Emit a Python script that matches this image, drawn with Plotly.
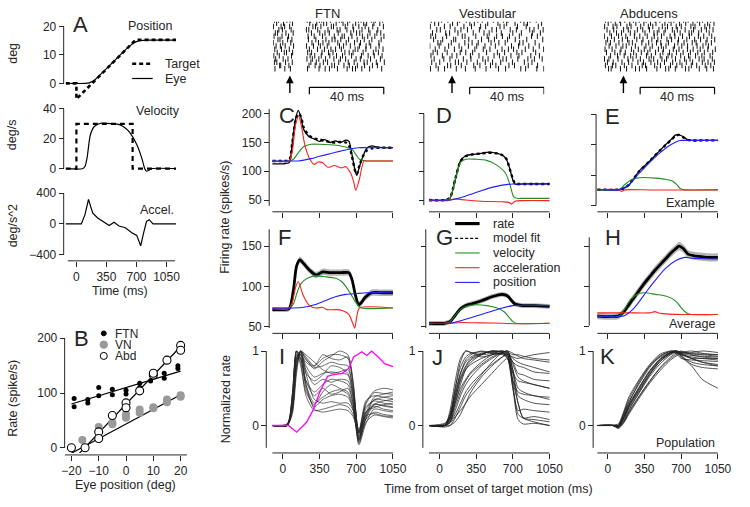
import plotly.graph_objects as go

W, H = 750, 507
FONT = "Liberation Sans, Arial, Helvetica, sans-serif"
INK = "#262626"
GREEN = "#1f8f1f"
RED = "#ff2020"
BLUE = "#2020ff"
MAGENTA = "#ff00ff"
BAND = "#b4b4b4"

# ===================== DATA =====================
# ---- A: target / eye kinematics ----
a_t_target_pos = [-125, 0, 0, 690, 1160]
a_target_pos = [0, 0, -5.5, 15.3, 15.3]
a_t_eye_pos = [-125, 100, 150, 200, 300, 400, 500, 600, 650, 700, 760, 820, 1160]
a_eye_pos = [0, 0, 0.2, 0.9, 3.7, 6.7, 9.7, 12.6, 13.9, 14.7, 15.1, 15.2, 15.2]
a_t_target_vel = [-125, 0, 0, 655, 655, 1160]
a_target_vel = [0, 0, 30, 30, 0, 0]
a_t_eye_vel = [-125, 70, 100, 125, 163, 209, 285, 437, 500, 562, 627, 703, 760, 798, 817, 874, 1160]
a_eye_vel = [0, 0, 1.5, 7.5, 22.7, 28.2, 30.4, 30, 29.5, 27.5, 23.8, 16.2, 7.4, -0.2, -1.7, 0, 0]
a_t_acc = [-125, 57, 100, 141, 165, 191, 248, 324, 382, 439, 496, 570, 646, 703, 749, 779, 817, 848, 893, 1160]
a_acc = [0, 0, 120, 320, 230, 140, 77, 21, -22, 21, -27, -51, -115, -150, -286, -137, 33, 55, 0, 0]

# ---- B: rate vs eye position ----
b_ftn_x = [-19, -19, -14, -14, -10, -10, -5, -5, 0, 0, 5, 5, 9, 10, 14, 14, 19, 19]
b_ftn_y = [90, 75, 88, 82, 110, 95, 107, 97, 105, 98, 118, 110, 122, 132, 136, 127, 150, 145]
b_vn_x = [-16, -10, -10, -5, -5, 0, 0, 5, 5, 10, 10, 15, 15, 20, 20]
b_vn_y = [14, 38, 31, 46, 43, 55, 61, 64, 70, 72, 74, 83, 88, 93, 96]
b_abd_x = [-20, -15, -10, -10, -5, 0, 0, 5, 10, 10, 15, 20, 20]
b_abd_y = [0, 0, 29, 17, 59, 82, 73, 104, 133, 136, 160, 187, 178]
b_ftn_fit_x = [-20, 20]
b_ftn_fit = [80, 140]
b_vn_fit_x = [-20, 20]
b_vn_fit = [-10, 97]
b_abd_fit_x = [-18, 20]
b_abd_fit = [-15, 185]

# ---- Rasters (spike times, ms, one list per trial) ----
ftn_raster = [
    [0.8, 2.9, 7.4, 9.1, 18.3, 20.2, 24.9, 26.1, 30.8, 35.6, 36.9, 41.2, 45.9, 47.3, 52.8, 55.0, 58.9],
    [1.9, 5.6, 10.4, 19.7, 23.5, 27.2, 28.8, 33.9, 37.6, 40.1, 44.4, 48.7, 50.3, 54.2, 57.4],
    [0.2, 4.3, 6.2, 8.9, 21.4, 22.8, 25.7, 31.3, 32.5, 38.8, 42.9, 46.1, 49.5, 53.6, 59.3],
    [3.1, 5.0, 9.7, 17.9, 19.2, 24.0, 29.5, 34.4, 36.0, 39.7, 43.3, 47.8, 51.4, 56.3],
    [1.2, 2.4, 6.9, 10.8, 20.6, 25.1, 27.9, 30.2, 35.0, 41.8, 44.9, 46.6, 52.1, 55.8, 57.9],
    [0.5, 4.8, 8.3, 18.8, 22.1, 26.6, 32.9, 37.1, 38.3, 42.4, 48.0, 50.9, 54.7, 59.6],
    [2.6, 3.7, 7.8, 10.1, 19.0, 23.0, 28.4, 31.7, 33.3, 36.4, 40.6, 45.2, 49.0, 53.1, 58.1],
    [0.1, 5.2, 9.5, 20.9, 24.4, 26.8, 30.0, 34.8, 39.3, 43.8, 47.0, 51.7, 56.9],
    [1.6, 3.9, 6.5, 11.0, 18.0, 21.7, 25.4, 29.1, 35.7, 37.9, 41.5, 46.4, 50.0, 52.5, 57.0],
    [0.9, 4.5, 8.7, 19.5, 23.9, 27.6, 31.1, 33.6, 36.7, 44.1, 45.6, 49.9, 55.3, 59.1],
    [2.2, 6.0, 7.2, 10.5, 18.6, 20.7, 26.3, 29.8, 32.2, 38.6, 40.9, 43.0, 48.4, 53.9, 56.6],
    [0.4, 3.3, 9.9, 19.9, 22.4, 25.9, 30.5, 34.1, 37.3, 42.2, 47.5, 51.1, 54.4, 58.6],
    [1.4, 5.4, 8.0, 18.2, 21.1, 24.6, 28.2, 32.7, 36.2, 39.0, 44.6, 46.9, 52.4, 57.7],
    [0.7, 2.0, 6.7, 10.3, 20.3, 23.2, 27.0, 29.3, 35.3, 40.4, 43.6, 48.9, 50.6, 55.5, 59.8],
    [3.5, 4.1, 8.5, 19.3, 22.6, 25.2, 31.6, 33.0, 38.1, 41.0, 45.3, 49.2, 53.4, 56.1],
    [1.0, 6.3, 9.3, 18.5, 24.7, 28.0, 30.3, 34.6, 39.8, 42.7, 44.3, 47.7, 51.9, 58.4],
]
vn_raster = [
    [0.9, 6.4, 9.8, 16.1, 19.7, 25.9, 28.3, 34.2, 39.6, 42.1, 48.8, 54.0, 57.3],
    [2.7, 4.8, 12.3, 14.9, 21.6, 24.0, 31.2, 36.7, 41.4, 45.9, 50.7, 52.6, 60.2],
    [0.3, 7.9, 11.0, 18.4, 22.5, 27.4, 30.1, 37.8, 40.0, 47.2, 51.9, 58.4],
    [3.8, 5.7, 13.6, 16.8, 20.3, 26.7, 33.5, 35.9, 43.3, 46.6, 53.8, 56.1, 61.0],
    [1.5, 8.6, 10.7, 15.2, 23.4, 29.2, 32.0, 38.5, 44.7, 49.3, 55.2, 59.5],
    [0.6, 3.2, 9.1, 17.5, 19.0, 24.8, 30.9, 36.0, 39.1, 42.9, 48.2, 54.8, 57.9],
    [2.1, 7.0, 12.9, 14.0, 21.0, 27.9, 31.7, 34.8, 41.9, 46.0, 52.2, 60.8],
    [4.4, 6.0, 11.6, 18.9, 22.8, 26.1, 33.0, 37.2, 40.6, 48.4, 50.2, 56.7],
    [0.1, 5.1, 10.2, 15.8, 20.8, 25.3, 29.7, 35.3, 44.0, 47.8, 53.3, 58.9],
    [3.0, 8.2, 13.3, 17.2, 24.3, 28.8, 32.4, 38.9, 42.3, 45.1, 51.4, 55.7, 61.3],
    [1.8, 4.1, 9.4, 16.4, 19.4, 23.1, 30.6, 36.4, 40.3, 46.9, 49.6, 57.0],
    [0.7, 6.8, 12.0, 14.6, 21.9, 26.5, 34.6, 37.5, 43.7, 48.0, 54.4, 59.0],
    [2.4, 7.6, 10.9, 18.1, 22.2, 28.6, 31.4, 39.4, 41.2, 47.4, 52.8, 56.3, 60.5],
    [1.1, 5.4, 13.8, 15.5, 20.0, 25.6, 29.9, 33.8, 38.2, 44.5, 50.9, 55.0],
    [3.4, 9.6, 11.3, 17.0, 23.7, 27.0, 32.7, 35.6, 42.6, 45.6, 53.0, 58.0],
    [0.4, 4.6, 8.0, 14.3, 19.2, 24.5, 30.3, 37.0, 40.8, 49.0, 51.6, 57.6, 61.4],
]
abd_raster = [
    [0.9, 3.8, 8.4, 11.2, 15.9, 19.0, 22.7, 27.5, 30.1, 35.0, 37.6, 42.8, 45.3, 50.2, 53.0, 57.4],
    [2.3, 6.1, 9.0, 13.9, 17.2, 21.5, 25.1, 28.0, 32.8, 36.1, 40.7, 44.0, 47.9, 51.5, 55.8, 59.2],
    [0.4, 4.9, 7.0, 12.4, 14.6, 19.8, 23.9, 26.3, 31.4, 34.2, 38.9, 41.6, 46.8, 49.0, 54.3, 56.9],
    [1.7, 5.3, 10.6, 13.1, 18.0, 20.9, 24.5, 29.6, 33.0, 36.8, 39.5, 43.7, 48.2, 52.4, 55.1, 58.7],
    [3.2, 6.8, 9.5, 14.2, 16.6, 22.1, 26.9, 28.7, 32.3, 37.9, 41.0, 45.8, 47.2, 51.0, 56.6],
    [0.2, 4.1, 7.9, 11.8, 16.4, 19.3, 23.3, 27.1, 31.0, 35.6, 38.2, 42.3, 46.0, 50.8, 53.7, 58.0],
    [2.0, 5.6, 9.9, 12.7, 17.7, 21.0, 25.8, 29.0, 33.9, 36.4, 40.1, 44.6, 48.8, 52.0, 55.5, 59.6],
    [1.1, 3.5, 8.1, 13.5, 15.3, 20.4, 24.1, 28.3, 30.6, 34.7, 39.8, 43.1, 47.5, 49.6, 54.9, 57.8],
    [2.8, 6.5, 10.2, 12.0, 16.9, 22.6, 26.0, 30.9, 33.4, 38.0, 41.9, 45.0, 50.1, 53.3, 56.2],
    [0.6, 4.4, 9.2, 14.8, 18.5, 21.7, 24.8, 29.3, 32.0, 37.3, 40.4, 44.9, 48.0, 51.8, 55.9, 59.9],
    [1.4, 5.9, 8.7, 11.5, 16.0, 20.1, 23.6, 27.8, 31.7, 35.3, 39.0, 42.6, 46.5, 50.5, 54.0, 58.5],
    [3.6, 7.3, 10.9, 14.4, 17.4, 22.9, 25.5, 30.3, 34.5, 36.6, 41.3, 45.5, 49.3, 52.7, 57.1],
    [0.3, 2.7, 7.6, 12.9, 15.6, 19.6, 24.3, 26.8, 31.2, 33.7, 38.5, 43.4, 46.3, 51.2, 53.9, 58.3],
    [1.9, 5.0, 9.7, 13.3, 18.3, 21.3, 25.3, 28.9, 32.6, 37.0, 40.9, 44.3, 47.7, 52.9, 56.0, 59.4],
    [0.8, 4.6, 6.4, 11.0, 15.1, 20.6, 22.4, 27.3, 30.4, 35.8, 39.2, 42.0, 47.0, 49.9, 54.5, 57.5],
    [2.5, 3.9, 8.9, 12.2, 17.0, 19.1, 23.0, 28.5, 33.2, 34.9, 38.4, 43.9, 45.7, 51.3, 55.3, 58.9],
]
raster_onset = {"ftn": 9.0, "vn": 12.0, "abd": 10.5}
scalebar_start = {"ftn": 19.5, "vn": 21.5, "abd": 19.5}
scalebar_ms = 40

# ---- C: FTN example ----
c_t = [-100, 0, 60, 90, 120, 146, 170, 200, 250, 300, 350, 400, 450, 500, 550, 600, 630, 660, 690, 705, 730, 760, 800, 850, 900, 1000, 1050]
c_rate = [113, 113, 115, 150, 190, 206, 195, 172, 160, 156, 152, 155, 150, 153, 150, 154, 152, 128, 100, 93, 108, 124, 140, 144, 142, 141, 141]
c_fit = [118, 118, 119, 150, 188, 200, 196, 175, 162, 157, 155, 153, 151, 150, 151, 150, 145, 125, 100, 95, 110, 125, 136, 140, 141, 141, 141]
c_t_vel = [-100, 60, 100, 150, 200, 270, 350, 450, 550, 620, 660, 700, 730, 760, 800, 1050]
c_vel = [118, 118, 121, 133, 143, 147, 147, 146, 144, 141, 138, 128, 121, 119, 118, 118]
c_t_acc = [-100, 60, 90, 120, 150, 175, 210, 260, 300, 333, 380, 428, 491, 554, 601, 648, 675, 695, 727, 773, 800, 1050]
c_acc = [118, 118, 135, 180, 196, 180, 145, 120, 112, 116, 115, 107, 110, 106, 108, 96, 82, 67, 84, 118, 118, 118]
c_t_pos = [-100, 60, 150, 270, 350, 460, 550, 620, 720, 800, 1050]
c_pos = [118, 118, 118, 122, 126, 131, 135, 138, 141, 141, 141]

# ---- D: vestibular example ----
d_t = [-100, 50, 100, 150, 200, 250, 300, 400, 450, 500, 550, 600, 640, 670, 700, 720, 750, 800, 900, 1050]
d_rate = [50, 50, 53, 85, 118, 127, 129, 131, 133, 133, 131, 128, 120, 105, 85, 78, 77, 78, 78, 78]
d_fit = [50, 50, 54, 86, 117, 126, 129, 131, 132, 132, 131, 128, 121, 104, 87, 79, 78, 78, 78, 78]
d_t_vel = [-100, 50, 100, 150, 200, 250, 350, 450, 535, 629, 675, 707, 740, 800, 1050]
d_vel = [50, 50, 53, 85, 115, 121, 121, 119, 112, 97, 75, 56, 53, 53, 53]
d_t_acc = [-100, 80, 150, 250, 400, 600, 660, 690, 720, 800, 1050]
d_acc = [49, 49, 52, 50, 48, 47, 46, 43, 48, 49, 49]
d_t_pos = [-100, 100, 200, 317, 411, 500, 598, 700, 740, 800, 1050]
d_pos = [50, 50, 54, 61, 67, 72, 76, 78, 78, 78, 78]

# ---- E: abducens example ----
e_t = [-100, 100, 150, 200, 300, 400, 500, 600, 650, 680, 720, 760, 800, 900, 1050]
e_rate = [76, 76, 78, 83, 107, 123, 141, 158, 166, 166, 163, 158, 157, 157, 157]
e_fit = [76, 76, 78, 84, 106, 123, 141, 157, 165, 166, 162, 158, 157, 157, 157]
e_t_vel = [-100, 110, 160, 220, 270, 350, 450, 550, 620, 660, 690, 720, 1050]
e_vel = [76, 76, 84, 92, 95, 96, 95, 93, 90, 84, 78, 76, 76]
e_t_acc = [-100, 100, 130, 160, 400, 700, 1050]
e_acc = [76, 76, 73, 75.5, 75.5, 75.5, 75.5]
e_t_pos = [-100, 110, 200, 300, 400, 500, 600, 690, 720, 1050]
e_pos = [76, 76, 84, 103, 121, 137, 150, 157, 157, 157]

# ---- F: FTN average ----
f_t = [-100, 0, 60, 100, 130, 162, 200, 255, 317, 380, 450, 504, 560, 629, 660, 690, 722, 750, 784, 847, 950, 1050]
f_rate = [71, 71, 72, 95, 125, 133, 128, 120, 114, 118, 117, 117, 117, 117, 108, 90, 77, 80, 86, 92, 92, 92]
f_sem = [3, 3, 3, 4, 4, 4, 4, 4, 4, 4, 4, 4, 4, 4, 4, 4, 4, 4, 4, 4, 4, 4]
f_t_vel = [-100, 60, 100, 130, 162, 200, 250, 317, 400, 504, 560, 600, 650, 691, 720, 750, 1050]
f_vel = [72, 72, 78, 90, 101, 107, 111, 113, 112, 110, 106, 100, 90, 81, 76, 73, 73]
f_t_acc = [-100, 60, 90, 120, 146, 193, 255, 317, 380, 420, 500, 566, 629, 666, 685, 707, 730, 1050]
f_acc = [73, 73, 80, 98, 106, 89, 76, 73, 74, 71, 71, 70, 65, 54, 48, 64, 73, 73]
f_t_pos = [-100, 100, 200, 300, 400, 500, 600, 700, 800, 1050]
f_pos = [73, 73, 74, 77, 82, 87, 90, 91, 92, 92]

# ---- G: vestibular average ----
g_t = [-100, 50, 100, 150, 200, 250, 300, 400, 500, 600, 650, 690, 720, 750, 800, 900, 1050]
g_rate = [54, 54, 56, 64, 72, 76, 78, 82, 87, 90, 88, 82, 78, 77, 76, 76, 75]
g_sem = [3, 3, 3, 3, 3, 3, 3, 3, 3, 3, 3, 3, 3, 3, 3, 3, 3]
g_t_vel = [-100, 50, 100, 150, 200, 250, 350, 450, 550, 620, 660, 700, 730, 1050]
g_vel = [54, 54, 56, 64, 71, 75, 77, 76, 73, 68, 62, 56, 54, 54]
g_t_acc = [-100, 100, 200, 400, 600, 700, 1050]
g_acc = [54, 54, 55, 54.5, 54, 53.5, 54]
g_t_pos = [-100, 100, 200, 300, 400, 500, 600, 700, 760, 1050]
g_pos = [54, 54, 57, 61, 65, 69, 73, 76, 76.5, 76]

# ---- H: abducens average ----
h_t = [-100, 100, 150, 200, 250, 300, 350, 400, 450, 500, 550, 600, 650, 680, 720, 766, 820, 890, 960, 1050]
h_rate = [63, 63, 68, 77, 86, 95, 104, 112, 120, 127, 134, 141, 147, 150, 147, 140, 138, 137, 136, 136]
h_sem = [4, 4, 4, 5, 5, 5, 5, 5, 5, 5, 5, 5, 5, 5, 5, 5, 5, 5, 5, 5]
h_t_vel = [-100, 110, 160, 220, 298, 361, 454, 550, 610, 660, 703, 740, 766, 800, 1050]
h_vel = [63, 63, 72, 84, 91, 92, 90, 88, 85, 80, 73, 68, 66, 65, 65]
h_t_acc = [-100, 200, 400, 450, 480, 520, 700, 1050]
h_acc = [67, 67, 67, 68.5, 67, 66, 65, 65]
h_t_pos = [-100, 150, 236, 300, 361, 450, 548, 650, 735, 800, 1050]
h_pos = [63, 63, 71, 81, 92, 107, 122, 132, 136, 135, 134]

# ---- I: FTN population (normalized) ----
i_t = [-100, 40, 90, 130, 170, 220, 300, 380, 460, 540, 620, 670, 725, 790, 870, 960, 1050]
i_cells = [
    [0, 0, 0.3, 0.9, 1.0, 0.92, 0.8, 0.9, 0.95, 0.95, 0.9, 0.55, -0.12, 0.15, 0.38, 0.42, 0.45],
    [0, 0, 0.2, 0.8, 1.0, 0.9, 0.76, 0.86, 0.93, 1.0, 0.95, 0.6, -0.18, 0.22, 0.34, 0.38, 0.4],
    [0, 0.02, 0.42, 1.0, 0.95, 0.85, 0.78, 0.8, 0.85, 0.82, 0.8, 0.45, -0.08, 0.25, 0.33, 0.3, 0.28],
    [0, 0, 0.25, 0.85, 1.0, 0.8, 0.65, 0.7, 0.72, 0.7, 0.68, 0.38, -0.22, 0.08, 0.28, 0.33, 0.35],
    [0, 0, 0.35, 0.95, 0.9, 0.6, 0.45, 0.55, 0.62, 0.6, 0.55, 0.3, -0.26, 0.02, 0.22, 0.2, 0.18],
    [0, 0, 0.3, 0.9, 0.95, 0.55, 0.3, 0.38, 0.45, 0.48, 0.42, 0.22, -0.2, 0.12, 0.28, 0.27, 0.25],
    [0, 0.01, 0.42, 1.0, 0.85, 0.4, 0.2, 0.22, 0.25, 0.28, 0.25, 0.15, -0.14, 0.08, 0.18, 0.15, 0.13],
    [0, 0, 0.2, 0.75, 1.0, 0.7, 0.35, 0.3, 0.32, 0.3, 0.3, 0.2, -0.1, 0.18, 0.26, 0.22, 0.2],
    [0, 0, 0.3, 0.95, 0.9, 0.5, 0.25, 0.35, 0.4, 0.42, 0.38, 0.22, -0.05, 0.28, 0.44, 0.43, 0.42],
    [0, 0, 0.15, 0.7, 1.0, 0.95, 0.85, 0.75, 0.7, 0.72, 0.75, 0.48, -0.1, 0.3, 0.46, 0.5, 0.48],
    [0, 0, 0.36, 1.0, 0.8, 0.45, 0.28, 0.45, 0.55, 0.5, 0.45, 0.26, -0.18, 0.04, 0.14, 0.12, 0.1],
    [0, 0.02, 0.25, 0.85, 0.98, 0.75, 0.55, 0.62, 0.58, 0.62, 0.6, 0.36, -0.24, 0.1, 0.35, 0.34, 0.32],
    [0, 0, 0.3, 0.9, 0.95, 0.6, 0.4, 0.5, 0.42, 0.45, 0.5, 0.3, -0.16, 0.18, 0.24, 0.28, 0.3],
    [0, 0, 0.2, 0.8, 1.0, 0.88, 0.8, 0.95, 0.9, 0.88, 0.92, 0.55, -0.1, 0.33, 0.4, 0.38, 0.36],
    [0, 0, 0.4, 1.0, 0.9, 0.55, 0.22, 0.18, 0.2, 0.22, 0.2, 0.12, -0.08, 0.13, 0.16, 0.13, 0.12],
    [0, 0, 0.28, 0.92, 0.96, 0.7, 0.6, 0.68, 0.8, 0.78, 0.7, 0.42, -0.2, 0.16, 0.29, 0.26, 0.24],
]
i_t_eye = [-100, 53, 131, 224, 286, 349, 426, 473, 566, 629, 675, 753, 800, 847, 909, 971, 1050]
i_eye = [0, 0, -0.09, 0.04, 0.2, 0.44, 0.66, 0.68, 0.7, 0.77, 0.92, 0.99, 0.94, 1.0, 0.92, 0.83, 0.79]

# ---- J: vestibular population ----
j_t = [-100, 50, 100, 150, 200, 250, 300, 400, 500, 600, 650, 700, 750, 800, 900, 1050]
j_cells = [
    [0, 0, 0.1, 0.5, 0.85, 1.0, 0.98, 0.95, 0.97, 1.0, 0.95, 0.6, 0.3, 0.1, 0.05, 0.0],
    [0, 0, 0.05, 0.3, 0.55, 0.75, 0.85, 0.95, 1.0, 0.98, 0.9, 0.5, 0.08, 0.02, 0.03, 0.0],
    [0, 0.02, 0.15, 0.45, 0.7, 0.85, 0.92, 0.97, 0.99, 1.0, 0.97, 0.85, 0.8, 0.78, 0.72, 0.7],
    [0, 0, 0.05, 0.2, 0.4, 0.55, 0.65, 0.8, 0.9, 0.98, 1.0, 0.75, 0.4, 0.35, 0.3, 0.28],
    [0, 0, 0.1, 0.35, 0.6, 0.75, 0.82, 0.9, 0.95, 0.98, 1.0, 0.97, 0.93, 0.9, 0.88, 0.85],
    [0, 0, 0.0, 0.1, 0.25, 0.4, 0.5, 0.68, 0.85, 0.98, 1.0, 0.7, 0.3, 0.1, 0.08, 0.05],
    [0, 0, 0.2, 0.6, 0.9, 1.0, 0.98, 0.92, 0.95, 0.97, 0.92, 0.7, 0.6, 0.58, 0.55, 0.5],
    [0, 0.03, 0.1, 0.3, 0.5, 0.62, 0.72, 0.85, 0.95, 1.0, 0.98, 0.9, 0.85, 0.82, 0.78, 0.72],
    [0, 0, 0.05, 0.15, 0.3, 0.45, 0.55, 0.7, 0.82, 0.92, 0.95, 0.55, 0.15, 0.1, 0.12, 0.08],
    [0, 0, 0.12, 0.4, 0.7, 0.88, 0.95, 1.0, 0.97, 0.95, 0.9, 0.6, 0.45, 0.42, 0.4, 0.35],
    [0, 0, 0.05, 0.25, 0.45, 0.6, 0.7, 0.82, 0.92, 0.97, 0.95, 0.82, 0.65, 0.6, 0.55, 0.5],
    [0, 0.01, 0.08, 0.35, 0.62, 0.78, 0.88, 0.95, 1.0, 0.98, 0.95, 0.92, 0.9, 0.92, 0.95, 0.98],
    [0, 0, 0.03, 0.12, 0.2, 0.3, 0.4, 0.55, 0.7, 0.85, 0.9, 0.5, 0.2, 0.22, 0.2, 0.18],
    [0, 0, 0.15, 0.5, 0.78, 0.92, 0.97, 0.99, 0.98, 0.96, 0.93, 0.75, 0.5, 0.45, 0.4, 0.38],
    [0, -0.02, 0.0, 0.05, 0.15, 0.3, 0.45, 0.65, 0.8, 0.92, 0.97, 0.85, 0.7, 0.68, 0.62, 0.6],
    [0, 0, 0.1, 0.4, 0.65, 0.8, 0.9, 0.96, 1.0, 0.99, 0.98, 0.95, 0.95, 0.93, 0.9, 0.88],
]

# ---- K: abducens population ----
k_t = [-100, 50, 100, 150, 200, 300, 400, 500, 600, 650, 700, 800, 900, 1050]
k_cells = [
    [0, 0, -0.02, 0.1, 0.25, 0.48, 0.7, 0.88, 0.98, 0.98, 0.95, 0.92, 0.9, 0.88],
    [0, 0, 0.0, 0.15, 0.32, 0.56, 0.78, 0.93, 1.0, 1.0, 0.98, 0.97, 0.96, 0.95],
    [0, 0, -0.03, 0.05, 0.18, 0.4, 0.6, 0.78, 0.92, 0.97, 1.0, 0.95, 0.92, 0.9],
    [0, 0, 0.0, 0.12, 0.28, 0.52, 0.73, 0.9, 0.98, 1.0, 0.93, 0.85, 0.82, 0.8],
    [0, 0, -0.02, 0.08, 0.22, 0.44, 0.66, 0.83, 0.95, 0.98, 0.92, 0.8, 0.62, 0.5],
    [0, 0.01, 0.02, 0.18, 0.38, 0.62, 0.82, 0.96, 1.0, 0.99, 0.97, 0.98, 1.0, 0.98],
    [0, 0, -0.04, 0.03, 0.15, 0.37, 0.57, 0.74, 0.88, 0.93, 0.96, 0.9, 0.85, 0.82],
    [0, 0, 0.0, 0.1, 0.26, 0.5, 0.72, 0.88, 0.97, 1.0, 0.97, 0.94, 0.93, 0.92],
    [0, 0, -0.01, 0.14, 0.3, 0.58, 0.8, 0.94, 0.99, 0.97, 0.9, 0.88, 0.87, 0.86],
    [0, 0, -0.02, 0.06, 0.2, 0.45, 0.68, 0.86, 0.97, 1.0, 0.99, 0.96, 0.95, 0.93],
    [0, 0, 0.0, 0.16, 0.35, 0.6, 0.8, 0.92, 0.98, 0.99, 0.95, 0.9, 0.9, 0.9],
    [0, 0, -0.03, 0.04, 0.17, 0.39, 0.59, 0.77, 0.9, 0.95, 0.98, 1.0, 0.97, 0.95],
    [0, 0, 0.0, 0.11, 0.27, 0.51, 0.74, 0.89, 0.98, 1.0, 0.96, 0.9, 0.85, 0.8],
    [0, 0, -0.02, 0.09, 0.24, 0.47, 0.69, 0.86, 0.96, 0.99, 0.94, 0.82, 0.78, 0.76],
]

time_ticks = [0, 350, 700, 1050]

# ===================== LAYOUT HELPERS =====================
def X(p):
    return p / W


def Y(p):
    return 1 - p / H


layout = dict(
    width=W, height=H, autosize=False,
    margin=dict(l=0, r=0, t=0, b=0),
    paper_bgcolor="white", plot_bgcolor="rgba(0,0,0,0)",
    font=dict(family=FONT, size=12, color=INK),
    showlegend=False,
)
shapes = []
annotations = []
traces = []


def names(i):
    return ("x" if i == 1 else f"x{i}", "y" if i == 1 else f"y{i}")


def make_axes(i, xdom, ydom, xmap, ymap, xticks=None, xlabels=False, xspine=None,
              yticks=None, ylabels=False, yspine=None):
    """xmap=(p0, v0, px_per_unit); ymap likewise (pixel grows downward)."""
    xn, yn = names(i)
    xr = [xmap[1] + (xdom[0] - xmap[0]) / xmap[2], xmap[1] + (xdom[1] - xmap[0]) / xmap[2]]
    yr = [ymap[1] + (ymap[0] - ydom[1]) / ymap[2], ymap[1] + (ymap[0] - ydom[0]) / ymap[2]]
    tick_common = dict(ticks="outside", ticklen=5, tickwidth=1, tickcolor=INK,
                       tickfont=dict(family=FONT, size=12, color=INK))
    xa = dict(domain=[X(xdom[0]), X(xdom[1])], range=xr, autorange=False,
              showgrid=False, zeroline=False, showline=False, fixedrange=True)
    if xticks is None:
        xa.update(visible=False, anchor=yn)
    else:
        xa.update(anchor="free", position=Y(xspine[0]), tickmode="array", tickvals=xticks,
                  showticklabels=xlabels, **tick_common)
        shapes.append(dict(type="line", xref=xn, yref="paper", x0=xspine[1], x1=xspine[2],
                           y0=Y(xspine[0]), y1=Y(xspine[0]), line=dict(color=INK, width=1)))
    ya = dict(domain=[Y(ydom[1]), Y(ydom[0])], range=yr, autorange=False,
              showgrid=False, zeroline=False, showline=False, fixedrange=True)
    if yticks is None:
        ya.update(visible=False, anchor=xn)
    else:
        ya.update(anchor="free", position=X(yspine[0]), tickmode="array", tickvals=yticks,
                  showticklabels=ylabels, **tick_common)
        shapes.append(dict(type="line", xref="paper", yref=yn, x0=X(yspine[0]), x1=X(yspine[0]),
                           y0=yspine[1], y1=yspine[2], line=dict(color=INK, width=1)))
    layout["xaxis" if i == 1 else f"xaxis{i}"] = xa
    layout["yaxis" if i == 1 else f"yaxis{i}"] = ya


def add_line(i, t, v, color, width=1.0, dash=None, spline=True, opacity=1.0):
    xn, yn = names(i)
    traces.append(go.Scatter(
        x=t, y=v, xaxis=xn, yaxis=yn, mode="lines", opacity=opacity,
        line=dict(color=color, width=width, dash=dash,
                  shape="spline" if spline else "linear", smoothing=0.7),
        hoverinfo="skip", showlegend=False))


def add_band(i, t, v, sem):
    xn, yn = names(i)
    lo = [a - b for a, b in zip(v, sem)]
    hi = [a + b for a, b in zip(v, sem)]
    traces.append(go.Scatter(x=t, y=lo, xaxis=xn, yaxis=yn, mode="lines",
                             line=dict(width=0, shape="spline", smoothing=0.7),
                             hoverinfo="skip", showlegend=False))
    traces.append(go.Scatter(x=t, y=hi, xaxis=xn, yaxis=yn, mode="lines", fill="tonexty",
                             fillcolor=BAND, line=dict(width=0, shape="spline", smoothing=0.7),
                             hoverinfo="skip", showlegend=False))


def text(x, y, s, size=12, xanchor="center", yanchor="middle", angle=0, color=INK, height=None):
    ann = dict(x=X(x), y=Y(y), xref="paper", yref="paper", text=s, showarrow=False,
               xanchor=xanchor, yanchor=yanchor, textangle=angle,
               font=dict(family=FONT, size=size, color=color))
    if height is not None:
        ann["height"] = height
    annotations.append(ann)


def hline_px(x0, x1, y, color="black", width=1.0, dash=None):
    shapes.append(dict(type="line", xref="paper", yref="paper", x0=X(x0), x1=X(x1), y0=Y(y), y1=Y(y),
                       line=dict(color=color, width=width, dash=dash)))


# ===================== AXES =====================
A_X = (75, 0, 0.0877)
make_axes(1, (64, 177), (20, 102), A_X, (81, 0, 2.9), yticks=[0, 10, 20], ylabels=True, yspine=(62, 0, 20))
make_axes(2, (64, 177), (104, 172), A_X, (168, 0, 1.525), yticks=[0, 20, 40], ylabels=True, yspine=(62, 0, 40))
make_axes(3, (64, 177), (190, 257), A_X, (224.3, 0, 0.0783), xticks=time_ticks, xlabels=True,
          xspine=(262, -100, 1150), yticks=[-400, 0, 400], ylabels=True, yspine=(62, -400, 400))
make_axes(4, (63, 188.5), (334, 458), (125.7, 0, 2.79), (452.7, 0, 0.5585),
          xticks=[-20, -10, 0, 10, 20], xlabels=True, xspine=(460, -22.5, 22.3),
          yticks=[0, 100, 200], ylabels=True, yspine=(63, 0, 200))

COL0 = [286, 446, 618]
S = 0.1071
R1 = (104, 210)
R2 = (226, 334)
R3 = (349, 455)


def cx(c):
    return (COL0[c] - 11.5, COL0[c] + 113.2)


make_axes(5, cx(0), R1, (COL0[0], 0, S), (200, 50, 0.587), xticks=time_ticks, xspine=(212, -100, 1050),
          yticks=[50, 100, 150, 200], ylabels=True, yspine=(272, 40, 208))
make_axes(6, cx(1), R1, (COL0[1], 0, S), (200, 50, 0.587), xticks=time_ticks, xspine=(212, -100, 1050),
          yticks=[50, 100, 150, 200], yspine=(430, 41, 200))
make_axes(7, cx(2), R1, (COL0[2], 0, S), (205.5, 50, 0.62), xticks=time_ticks, xspine=(212, -100, 1050),
          yticks=[50, 100, 150, 200], yspine=(606, 50, 200))
make_axes(8, cx(0), R2, (COL0[0], 0, S), (329, 50, 0.82), xticks=time_ticks, xspine=(336, -100, 1050),
          yticks=[50, 100, 150], ylabels=True, yspine=(272, 48, 171))
make_axes(9, cx(1), R2, (COL0[1], 0, S), (329, 50, 0.82), xticks=time_ticks, xspine=(336, -100, 1050),
          yticks=[50, 100, 150], yspine=(432, 48, 171))
make_axes(10, cx(2), R2, (COL0[2], 0, S), (329, 50, 0.82), xticks=time_ticks, xspine=(336, -100, 1050),
          yticks=[50, 100, 150], yspine=(599, 51, 161))
make_axes(11, cx(0), R3, (COL0[0], 0, S), (430, 0, 76), xticks=time_ticks, xlabels=True,
          xspine=(458, -100, 1050), yticks=[0, 1], ylabels=True, yspine=(269, -0.3, 1))
make_axes(12, cx(1), R3, (COL0[1], 0, S), (430, 0, 76), xticks=time_ticks, xlabels=True,
          xspine=(458, -100, 1050), yticks=[0, 1], ylabels=True, yspine=(429, -0.3, 1))
make_axes(13, cx(2), R3, (COL0[2], 0, S), (430, 0, 76), xticks=time_ticks, xlabels=True,
          xspine=(458, -100, 1050), yticks=[0, 1], ylabels=True, yspine=(603, -0.3, 1))

# rasters: 1.9 px per ms, trials stacked top -> bottom
RAS = {"ftn": (14, 276, ftn_raster), "vn": (15, 436, vn_raster), "abd": (16, 614, abd_raster)}
for key, (idx, left, rows) in RAS.items():
    make_axes(idx, (left, left + 117), (18, 71), (left, 0, 1.9), (18, -0.5, 53 / 16.0))
    xn, yn = names(idx)
    xs, ys = [], []
    for r, row in enumerate(rows):
        xs += row
        ys += [-r] * len(row)
    traces.append(go.Scatter(x=xs, y=ys, xaxis=xn, yaxis=yn, mode="markers",
                             marker=dict(symbol="line-ns", size=4, color="black",
                                         line=dict(width=1, color="#111111")),
                             hoverinfo="skip", showlegend=False))
    annotations.append(dict(x=raster_onset[key], y=Y(73), xref=xn, yref="paper", ax=0, ay=19,
                            axref="pixel", ayref="pixel", showarrow=True, arrowhead=2, arrowsize=1.1,
                            arrowwidth=1.4, arrowcolor="black", text=""))
    s0 = scalebar_start[key]
    s1 = s0 + scalebar_ms
    for (a, b, c, d) in [(s0, s1, 85, 85), (s0, s0, 85, 92), (s1, s1, 85, 92)]:
        shapes.append(dict(type="line", xref=xn, yref="paper", x0=a, x1=b, y0=Y(c), y1=Y(d),
                           line=dict(color="black", width=1.2)))
    annotations.append(dict(x=(s0 + s1) / 2, y=Y(95), xref=xn, yref="paper", text=f"{scalebar_ms} ms",
                            showarrow=False, xanchor="center", yanchor="middle",
                            font=dict(family=FONT, size=12.5, color=INK)))

# ===================== TRACES =====================
add_line(1, a_t_eye_pos, a_eye_pos, "black", 1.2)
add_line(1, a_t_target_pos, a_target_pos, "black", 2.6, dash="4px,3px", spline=False)
add_line(2, a_t_eye_vel, a_eye_vel, "black", 1.2)
add_line(2, a_t_target_vel, a_target_vel, "black", 2.2, dash="5px,4px", spline=False)
add_line(3, a_t_acc, a_acc, "black", 1.2, spline=False)

add_line(4, b_ftn_fit_x, b_ftn_fit, "black", 1.2, spline=False)
add_line(4, b_vn_fit_x, b_vn_fit, "black", 1.2, spline=False)
add_line(4, b_abd_fit_x, b_abd_fit, "black", 1.2, spline=False)
for xs, ys, mk in [
    (b_vn_x, b_vn_y, dict(symbol="circle", size=8, color="#9a9a9a")),
    (b_ftn_x, b_ftn_y, dict(symbol="circle", size=5, color="black")),
    (b_abd_x, b_abd_y, dict(symbol="circle", size=8, color="white", line=dict(color="black", width=1.1))),
]:
    traces.append(go.Scatter(x=xs, y=ys, xaxis="x4", yaxis="y4", mode="markers", marker=mk,
                             cliponaxis=False, hoverinfo="skip", showlegend=False))

for idx, t, rate, fit, tv, vel, ta, acc, tp, pos in [
    (5, c_t, c_rate, c_fit, c_t_vel, c_vel, c_t_acc, c_acc, c_t_pos, c_pos),
    (6, d_t, d_rate, d_fit, d_t_vel, d_vel, d_t_acc, d_acc, d_t_pos, d_pos),
    (7, e_t, e_rate, e_fit, e_t_vel, e_vel, e_t_acc, e_acc, e_t_pos, e_pos),
]:
    add_line(idx, t, rate, "black", 1.3)
    add_line(idx, t, fit, "black", 2.4, dash="3px,3px")
    add_line(idx, tv, vel, GREEN, 1.1)
    add_line(idx, ta, acc, RED, 1.1)
    add_line(idx, tp, pos, BLUE, 1.1)

for idx, t, rate, sem, tv, vel, ta, acc, tp, pos in [
    (8, f_t, f_rate, f_sem, f_t_vel, f_vel, f_t_acc, f_acc, f_t_pos, f_pos),
    (9, g_t, g_rate, g_sem, g_t_vel, g_vel, g_t_acc, g_acc, g_t_pos, g_pos),
    (10, h_t, h_rate, h_sem, h_t_vel, h_vel, h_t_acc, h_acc, h_t_pos, h_pos),
]:
    add_band(idx, t, rate, sem)
    add_line(idx, t, rate, "black", 2.8)
    add_line(idx, tv, vel, GREEN, 1.1)
    add_line(idx, ta, acc, RED, 1.1)
    add_line(idx, tp, pos, BLUE, 1.1)

for row in i_cells:
    add_line(11, i_t, row, "#2a2a2a", 0.8, opacity=0.85)
add_line(11, i_t_eye, i_eye, MAGENTA, 1.3, spline=False)
for row in j_cells:
    add_line(12, j_t, row, "#222222", 0.85, opacity=0.9)
for row in k_cells:
    add_line(13, k_t, row, "#222222", 0.85, opacity=0.9)

# ===================== TEXT / LEGENDS =====================
text(332, 10, "FTN", 13)
text(496, 10, "Vestibular", 13)
text(660, 10, "Abducens", 13)

for s, x, y in [("A", 69, 21), ("B", 71, 341), ("C", 280, 114), ("D", 440, 114), ("E", 613, 115),
                ("F", 279, 238), ("G", 440, 238), ("H", 613, 238), ("I", 280, 360), ("J", 436, 361),
                ("K", 608, 360)]:
    text(x, y, s, 22, xanchor="left")

text(176, 22, "Position", 12.5, xanchor="right")
text(183, 109, "Velocity", 12.5, xanchor="right")
text(177, 210, "Accel.", 12.5, xanchor="right")
hline_px(132, 153, 61, width=2.6, dash="4px,3px")
hline_px(132, 153, 76, width=1.2)
text(163, 61, "Target", 12.5, xanchor="left")
text(163, 76, "Eye", 12.5, xanchor="left")
text(10, 50, "deg", 12.5, angle=-90)
text(10, 133, "deg/s", 12.5, angle=-90)
text(10, 226, "deg/s^2", 12.5, angle=-90)
text(120, 293, "Time (ms)", 12.5)

for (cy, fill, r, lc) in [(336, "black", 2.5, "black"), (347.5, "#9a9a9a", 3.8, "#9a9a9a"), (359, "white", 3.6, "black")]:
    shapes.append(dict(type="circle", xref="paper", yref="paper", x0=X(103 - r), x1=X(103 + r),
                       y0=Y(cy + r), y1=Y(cy - r), fillcolor=fill, line=dict(color=lc, width=1)))
text(112, 336, "FTN", 12, xanchor="left", height=11)
text(112, 347.5, "VN", 12, xanchor="left", height=11)
text(112, 359, "Abd", 12, xanchor="left", height=11)
text(10, 402, "Rate (spike/s)", 12.5, angle=-90)
text(125, 491, "Eye position (deg)", 12.5)

for y, col, w, dash, lab in [(224, "black", 3.2, None, "rate"), (239, "black", 1.2, "3px,2px", "model fit"),
                              (254, GREEN, 1.1, None, "velocity"), (269, RED, 1.1, None, "acceleration"),
                              (284, BLUE, 1.1, None, "position")]:
    hline_px(462, 487, y, color=col, width=w, dash=dash)
    text(499, y, lab, 12.5, xanchor="left")

text(227, 218, "Firing rate (spikes/s)", 12.5, angle=-90)
text(228, 403, "Normalized rate", 12.5, angle=-90)
text(496, 495, "Time from onset of target motion (ms)", 12.5)
text(730, 203, "Example", 12.5, xanchor="right")
text(730, 326, "Average", 12.5, xanchor="right")
text(730, 448, "Population", 12.5, xanchor="right")

layout["shapes"] = shapes
layout["annotations"] = annotations

fig = go.Figure(data=traces, layout=layout)
fig.write_html("out.html", config={"displayModeBar": False},
               post_script="document.body.style.margin='0';document.body.style.padding='0';")
